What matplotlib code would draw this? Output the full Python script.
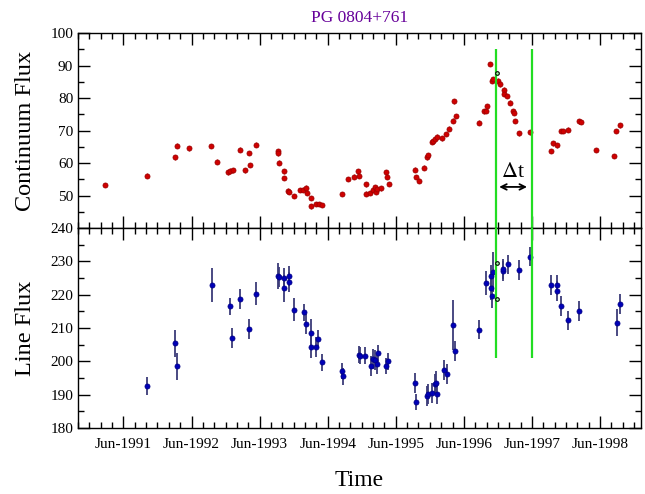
import matplotlib.pyplot as plt
import numpy as np

plt.rcParams['font.family'] = ['Liberation Serif', 'DejaVu Serif']
plt.rcParams['mathtext.fontset'] = 'stix'

# Continuum light curve (decimal year, flux)
cont_t = [1991.147, 1991.765, 1992.167, 1992.203, 1992.377, 1992.707, 1992.797,
          1992.953, 1992.983, 1993.019, 1993.127, 1993.199, 1993.259, 1993.277,
          1993.367, 1993.684, 1993.690, 1993.696, 1993.769, 1993.775, 1993.835,
          1993.847, 1993.925, 1994.003, 1994.057, 1994.099, 1994.111, 1994.171,
          1994.177, 1994.243, 1994.285, 1994.327, 1994.632, 1994.710, 1994.800,
          1994.866, 1994.878, 1994.974, 1994.986, 1995.040, 1995.076, 1995.106,
          1995.124, 1995.148, 1995.196, 1995.268, 1995.292, 1995.316, 1995.694,
          1995.712, 1995.760, 1995.838, 1995.874, 1995.886, 1995.946, 1995.964,
          1995.994, 1996.018, 1996.102, 1996.150, 1996.204, 1996.252, 1996.277,
          1996.295, 1996.637, 1996.709, 1996.739, 1996.757, 1996.805, 1996.835,
          1996.847, 1996.919, 1996.949, 1996.999, 1997.005, 1997.053, 1997.101,
          1997.137, 1997.149, 1997.173, 1997.227, 1997.385, 1997.695, 1997.725,
          1997.785, 1997.845, 1997.869, 1997.941, 1998.109, 1998.139, 1998.361,
          1998.625, 1998.655, 1998.703]
cont_f = [53.3, 56.2, 61.8, 65.4, 64.6, 65.3, 60.5,
          57.2, 57.7, 57.8, 64.2, 57.8, 63.2, 59.5,
          65.7, 63.8, 63.0, 60.2, 57.5, 55.5, 51.6,
          51.2, 49.9, 51.7, 51.9, 52.5, 50.9, 49.3,
          46.7, 47.4, 47.5, 47.2, 50.5, 55.1, 55.9,
          57.5, 56.1, 50.6, 53.5, 50.8, 51.7, 52.7,
          51.2, 52.0, 52.3, 57.3, 55.8, 53.6, 58.0,
          55.8, 54.6, 58.6, 61.8, 62.4, 66.5, 66.7,
          67.3, 68.2, 67.6, 69.0, 70.6, 73.1, 79.0,
          74.5, 72.5, 75.9, 76.1, 77.6, 90.5, 85.3,
          85.8, 85.4, 84.2, 82.6, 81.3, 80.7, 78.6,
          76.1, 75.5, 73.0, 69.2, 69.5, 63.7, 66.1,
          65.5, 69.9, 69.9, 70.3, 72.9, 72.7, 64.0,
          62.2, 69.9, 71.6]
cont_err = 0.7

# Line light curve (decimal year, flux, error)
line_t = [1991.765, 1992.167, 1992.203, 1992.713, 1992.977, 1993.013, 1993.133,
          1993.265, 1993.367, 1993.685, 1993.697, 1993.769, 1993.781, 1993.847,
          1993.853, 1993.925, 1994.063, 1994.105, 1994.171, 1994.177, 1994.249,
          1994.279, 1994.339, 1994.632, 1994.638, 1994.872, 1994.890, 1994.968,
          1995.046, 1995.076, 1995.118, 1995.136, 1995.154, 1995.268, 1995.298,
          1995.700, 1995.712, 1995.868, 1995.892, 1995.952, 1995.994, 1996.006,
          1996.024, 1996.120, 1996.162, 1996.264, 1996.288, 1996.642, 1996.744,
          1996.810, 1996.816, 1996.834, 1996.840, 1996.984, 1996.996, 1997.062,
          1997.230, 1997.388, 1997.698, 1997.782, 1997.788, 1997.848, 1997.944,
          1998.112, 1998.664, 1998.712]
line_f = [192.6, 205.4, 198.5, 222.9, 216.5, 207.0, 218.6,
          209.6, 220.3, 225.6, 225.4, 221.9, 225.1, 225.6,
          223.7, 215.5, 214.7, 211.3, 208.6, 204.4, 204.4,
          206.7, 199.7, 197.1, 195.5, 202.0, 201.7, 201.7,
          198.7, 200.7, 200.5, 199.1, 202.4, 198.6, 200.0,
          193.6, 187.8, 189.6, 190.3, 190.4, 193.2, 193.6,
          190.3, 197.5, 196.1, 210.8, 203.1, 209.5, 223.5,
          221.9, 225.5, 219.5, 226.9, 227.0, 227.7, 229.1,
          227.3, 231.5, 222.8, 222.8, 221.0, 216.6, 212.3,
          215.2, 211.6, 217.1]
line_err = [2.6, 4.0, 4.0, 5.0, 2.5, 3.0, 3.0,
            3.0, 3.5, 4.0, 3.0, 4.0, 3.0, 3.0,
            3.0, 3.5, 2.5, 3.0, 4.0, 3.5, 3.0,
            2.7, 2.6, 2.5, 2.5, 2.5, 2.5, 2.5,
            3.0, 3.0, 3.0, 3.0, 2.5, 2.5, 2.5,
            3.0, 2.5, 3.0, 3.0, 3.0, 3.0, 3.5,
            3.0, 3.0, 3.0, 7.5, 3.0, 2.8, 3.5,
            3.5, 3.5, 3.5, 6.0, 3.0, 3.0, 3.0,
            3.0, 3.0, 3.0, 3.0, 3.0, 3.0, 2.8,
            3.0, 4.0, 3.0]

# Points that fall on the first lag marker
mark_t = [1996.906]
mark_cont = [87.6]
mark_line = [229.6, 218.8]

# Lag markers and delay arrow
lag_t = [1996.89, 1997.41]
arrow_t = [1996.935, 1997.344]

years = list(range(1991, 1999))
tick_labels = ['Jun-%d' % y for y in years]

fig = plt.figure(figsize=(6.45, 4.94), dpi=100)
ax1 = fig.add_axes([0.121, 0.538, 0.873, 0.395])
ax2 = fig.add_axes([0.121, 0.134, 0.873, 0.404], sharex=ax1)

ax1.errorbar(cont_t, cont_f, yerr=cont_err, fmt='o', ms=3.6, color='#d00000',
             mec='#a00000', mew=0.6, ecolor='#c03030', elinewidth=1.0, capsize=0)
ax2.errorbar(line_t, line_f, yerr=line_err, fmt='o', ms=3.6, color='#0000b8',
             mec='#00008a', mew=0.6, ecolor='#3c3c78', elinewidth=1.3, capsize=0)

for t in lag_t:
    ax1.vlines(t, 40, 95.2, color='#22dd22', lw=1.6, zorder=5)
    ax2.vlines(t, 201, 240, color='#22dd22', lw=1.6, zorder=5)

ax1.plot(mark_t, mark_cont, 'o', ms=2.6, mfc='#a0ffa0', mec='black', mew=0.8, zorder=6)
ax2.plot(mark_t * 2, mark_line, 'o', ms=2.6, mfc='#a0ffa0', mec='black', mew=0.8, zorder=6)

ax1.annotate('', xy=(arrow_t[0], 52.7), xytext=(arrow_t[1], 52.7),
             arrowprops=dict(arrowstyle='<->', color='black', lw=1.3,
                             shrinkA=0, shrinkB=0, mutation_scale=10))
ax1.text(np.mean(arrow_t), 54.2, r'$\Delta$t', ha='center', va='bottom', fontsize=16)

ax1.set_ylim(40, 100)
ax2.set_ylim(180, 240)
ax1.set_xlim(1990.80, 1999.02)

major = [y + 5 / 12 for y in years]
minor = [1990.75 + i / 6 for i in range(50)]
for ax in (ax1, ax2):
    ax.set_xticks(major)
    ax.set_xticks(minor, minor=True)
    ax.tick_params(which='both', direction='in', top=True, right=True,
                   labelsize=11, width=1.0)
    ax.tick_params(which='major', length=8.5)
    ax.tick_params(which='minor', length=4.5)
    for s in ax.spines.values():
        s.set_linewidth(1.0)

ax1.set_yticks([50, 60, 70, 80, 90, 100])
ax1.set_yticks([45, 55, 65, 75, 85, 95], minor=True)
ax2.set_yticks([180, 190, 200, 210, 220, 230, 240])
ax2.set_yticks([185, 195, 205, 215, 225, 235], minor=True)
ax1.tick_params(labelbottom=False)
ax2.set_xticklabels(tick_labels)
ax2.tick_params(axis='x', pad=7)

ax1.set_ylabel('Continuum Flux', fontsize=17.5)
ax2.set_ylabel('Line Flux', fontsize=17.5)
ax1.yaxis.set_label_coords(-0.074, 0.5)
ax2.yaxis.set_label_coords(-0.074, 0.5)
ax2.set_xlabel('Time', fontsize=17, labelpad=14)

fig.text(0.5575, 0.963, 'PG 0804+761', ha='center', va='center',
         fontsize=12.5, color='#660099')

plt.savefig('out.png', dpi=100)
